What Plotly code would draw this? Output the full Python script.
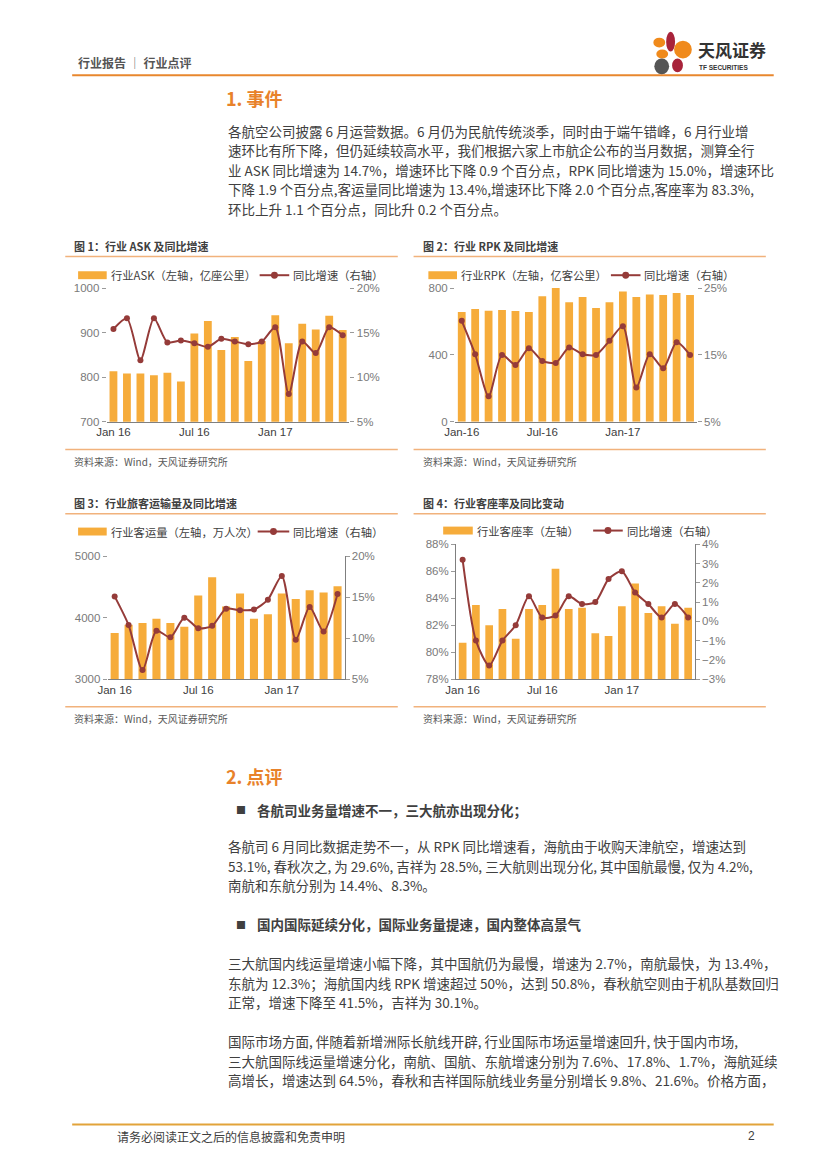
import plotly.graph_objects as go

W, H = 827, 1169

# ---------------- data ----------------
months = ["Jan 16", "Feb 16", "Mar 16", "Apr 16", "May 16", "Jun 16",
          "Jul 16", "Aug 16", "Sep 16", "Oct 16", "Nov 16", "Dec 16",
          "Jan 17", "Feb 17", "Mar 17", "Apr 17", "May 17", "Jun 17"]
months_pax = months[:17]

ask = [813, 808, 808, 804, 810, 790, 898, 926, 861, 890, 836, 881, 939, 876, 920, 907, 938, 906]
ask_yoy = [15.4, 16.6, 11.9, 16.6, 13.9, 14.1, 13.8, 13.4, 14.3, 14.0, 13.7, 14.0, 15.6, 8.1, 14.0, 12.7, 15.6, 14.7]

rpk = [656, 674, 664, 668, 662, 656, 751, 800, 715, 747, 680, 715, 780, 747, 762, 759, 770, 759]
rpk_yoy = [20.1, 15.1, 8.8, 15.0, 13.5, 16.0, 14.1, 13.8, 16.1, 15.1, 15.0, 17.1, 19.3, 10.1, 15.1, 13.0, 16.9, 15.0]

pax = [3751, 3885, 3912, 3981, 3912, 3853, 4362, 4657, 4180, 4394, 3981, 4056, 4394, 4303, 4448, 4410, 4512]
pax_yoy = [15.1, 11.6, 6.1, 10.9, 10.1, 12.5, 11.2, 11.5, 13.6, 13.4, 13.5, 14.7, 17.6, 9.8, 13.8, 10.8, 15.4]

lf = [80.7, 83.5, 82.0, 83.2, 81.0, 83.2, 83.5, 86.2, 83.2, 83.3, 81.4, 81.2, 83.4, 85.1, 82.9, 83.4, 82.1, 83.3]
lf_yoy = [3.2, -1.0, -2.3, -1.0, -0.2, 1.3, 0.2, 0.3, 1.3, 0.9, 1.0, 2.2, 2.6, 1.5, 0.9, 0.2, 0.9, 0.2]

tick_months = ["Jan 16", "Jul 16", "Jan 17"]
tick_text_space = ["Jan 16", "Jul 16", "Jan 17"]
tick_text_dash = ["Jan-16", "Jul-16", "Jan-17"]

chart_titles = ["图 1：行业 ASK 及同比增速", "图 2：行业 RPK 及同比增速",
                "图 3：行业旅客运输量及同比增速", "图 4：行业客座率及同比变动"]
bar_names = ["行业ASK（左轴，亿座公里）", "行业RPK（左轴，亿客公里）",
             "行业客运量（左轴，万人次）", "行业客座率（左轴）"]
line_name = "同比增速（右轴）"
source_text = "资料来源：Wind，天风证券研究所"

para1 = ["各航空公司披露 6 月运营数据。6 月仍为民航传统淡季，同时由于端午错峰，6 月行业增",
         "速环比有所下降，但仍延续较高水平，我们根据六家上市航企公布的当月数据，测算全行",
         "业 ASK 同比增速为 14.7%，增速环比下降 0.9 个百分点，RPK 同比增速为 15.0%，增速环比",
         "下降 1.9 个百分点,客运量同比增速为 13.4%,增速环比下降 2.0 个百分点,客座率为 83.3%,",
         "环比上升 1.1 个百分点，同比升 0.2 个百分点。"]
bullet1 = "各航司业务量增速不一，三大航亦出现分化；"
para2 = ["各航司 6 月同比数据走势不一，从 RPK 同比增速看，海航由于收购天津航空，增速达到",
         "53.1%, 春秋次之, 为 29.6%, 吉祥为 28.5%, 三大航则出现分化, 其中国航最慢, 仅为 4.2%,",
         "南航和东航分别为 14.4%、8.3%。"]
bullet2 = "国内国际延续分化，国际业务量提速，国内整体高景气"
para3 = ["三大航国内线运量增速小幅下降，其中国航仍为最慢，增速为 2.7%，南航最快，为 13.4%，",
         "东航为 12.3%；海航国内线 RPK 增速超过 50%，达到 50.8%，春秋航空则由于机队基数回归",
         "正常，增速下降至 41.5%，吉祥为 30.1%。"]
para4 = ["国际市场方面, 伴随着新增洲际长航线开辟, 行业国际市场运量增速回升, 快于国内市场,",
         "三大航国际线运量增速分化，南航、国航、东航增速分别为 7.6%、17.8%、1.7%，海航延续",
         "高增长，增速达到 64.5%，春秋和吉祥国际航线业务量分别增长 9.8%、21.6%。价格方面，"]

# ---------------- style ----------------
BAR = "#F6AC3B"
LINE = "#953B39"
ORANGE = "#E8822A"
TXT = "#404040"
CJK = "Noto Sans CJK SC"
NUM = "Liberation Sans, Noto Sans CJK SC"


def X(x):
    return x / W


def Y(y):
    return 1 - y / H


def pct(v):
    return ("−" if v < 0 else "") + f"{abs(v)}%"


fig = go.Figure()
annotations = []
shapes = []


def text(x, y, s, size=13.5, color=TXT, bold=False, family=CJK, xanchor="left"):
    if bold:
        s = "<b>" + s + "</b>"
    annotations.append(dict(x=X(x), y=Y(y), xref="paper", yref="paper", text=s,
                            showarrow=False, xanchor=xanchor, yanchor="middle",
                            font=dict(size=size, color=color, family=family)))


def hline(x0, x1, y, color, width):
    shapes.append(dict(type="line", xref="paper", yref="paper", x0=X(x0), x1=X(x1),
                       y0=Y(y), y1=Y(y), line=dict(color=color, width=width)))


def ellipse(x0, x1, y0, y1, color):
    shapes.append(dict(type="circle", xref="paper", yref="paper", x0=X(x0), x1=X(x1),
                       y0=Y(y1), y1=Y(y0), fillcolor=color, line=dict(width=0)))


# ---------------- charts ----------------
charts = [
    dict(cats=months, bars=ask, line=ask_yoy, xd=(97, 343), yd=(285, 420),
         lrange=[700, 1000], lticks=[700, 800, 900, 1000], lpct=False,
         rrange=[5, 20], rticks=[5, 10, 15, 20], ticktext=tick_text_space,
         rline=False, lline=False),
    dict(cats=months, bars=rpk, line=rpk_yoy, xd=(450, 695), yd=(285, 420),
         lrange=[0, 800], lticks=[0, 400, 800], lpct=False,
         rrange=[5, 25], rticks=[5, 15, 25], ticktext=tick_text_dash,
         rline=False, lline=False),
    dict(cats=months_pax, bars=pax, line=pax_yoy, xd=(98, 338), yd=(556, 680),
         lrange=[3000, 5000], lticks=[3000, 4000, 5000], lpct=False,
         rrange=[5, 20], rticks=[5, 10, 15, 20], ticktext=tick_text_space,
         rline=True, lline=False),
    dict(cats=months, bars=lf, line=lf_yoy, xd=(451, 693), yd=(544, 680),
         lrange=[78, 88], lticks=[78, 80, 82, 84, 86, 88], lpct=True,
         rrange=[-3, 4], rticks=[-3, -2, -1, 0, 1, 2, 3, 4], ticktext=tick_text_space,
         rline=True, lline=True),
]

layout_axes = {}
for i, c in enumerate(charts):
    xn = "x" if i == 0 else f"x{i + 1}"
    yl = f"y{2 * i + 1}" if i > 0 else "y"
    yr = f"y{2 * i + 2}"
    fig.add_trace(go.Bar(x=c["cats"], y=c["bars"], marker_color=BAR, marker_line_width=0,
                         xaxis=xn, yaxis=yl, showlegend=False, hoverinfo="skip"))
    fig.add_trace(go.Scatter(x=c["cats"], y=c["line"], mode="lines+markers",
                             line=dict(color=LINE, width=2, shape="spline", smoothing=0.7),
                             marker=dict(color=LINE, size=6),
                             xaxis=xn, yaxis=yr, showlegend=False, hoverinfo="skip"))
    xkey = "xaxis" if i == 0 else f"xaxis{i + 1}"
    ylkey = "yaxis" if i == 0 else f"yaxis{2 * i + 1}"
    yrkey = f"yaxis{2 * i + 2}"
    layout_axes[xkey] = dict(domain=[X(c["xd"][0]), X(c["xd"][1])], anchor=yl,
                             type="category", categoryorder="array", categoryarray=c["cats"],
                             range=[-0.5, len(c["cats"]) - 0.5],
                             tickvals=tick_months, ticktext=c["ticktext"],
                             showline=True, linecolor="#7f7f7f", linewidth=1,
                             ticks="", showgrid=False, zeroline=False,
                             tickfont=dict(size=11.5, color=TXT, family=NUM))
    lt = [pct(v) for v in c["lticks"]] if c["lpct"] else [str(v) for v in c["lticks"]]
    layout_axes[ylkey] = dict(domain=[Y(c["yd"][1]), Y(c["yd"][0])], anchor=xn,
                              range=c["lrange"], tickvals=c["lticks"], ticktext=lt,
                              showgrid=False, zeroline=False,
                              showline=c["lline"], linecolor="#7f7f7f", linewidth=1,
                              ticks="outside", ticklen=4, tickcolor="#9a9a9a",
                              tickfont=dict(size=11.5, color="#7a7a7a", family=NUM))
    layout_axes[yrkey] = dict(overlaying=yl, side="right", anchor=xn,
                              range=c["rrange"], tickvals=c["rticks"],
                              ticktext=[pct(v) for v in c["rticks"]],
                              showgrid=False, zeroline=False,
                              showline=c["rline"], linecolor="#7f7f7f", linewidth=1,
                              ticks="outside", ticklen=4, tickcolor="#9a9a9a",
                              tickfont=dict(size=11.5, color="#7a7a7a", family=NUM))

# chart frames: titles, separator lines, legends, sources
frames = [
    dict(x=62, ty=242, ly=253, lx=(55, 392), legy=272, sw=(68, 97), bt=99,
         lsw=(252, 282), lt=284, srcl=448, srct=460),
    dict(x=416, ty=242, ly=253, lx=(408, 765), legy=272, sw=(423, 452), bt=454,
         lsw=(608, 638), lt=640, srcl=448, srct=460),
    dict(x=62, ty=502, ly=513, lx=(55, 392), legy=531, sw=(68, 97), bt=99,
         lsw=(250, 282), lt=284, srcl=708, srct=720),
    dict(x=416, ty=502, ly=513, lx=(408, 765), legy=530, sw=(438, 468), bt=470,
         lsw=(590, 620), lt=622, srcl=708, srct=720),
]
for i, f in enumerate(frames):
    text(f["x"], f["ty"], chart_titles[i], size=11, color=TXT, bold=True)
    hline(f["lx"][0], f["lx"][1], f["ly"], "#F1B27C", 1.5)
    hline(f["lx"][0], f["lx"][1], f["srcl"], "#F1B27C", 1.5)
    text(f["x"], f["srct"], source_text, size=10, color="#595959")
    shapes.append(dict(type="rect", xref="paper", yref="paper",
                       x0=X(f["sw"][0]), x1=X(f["sw"][1]),
                       y0=Y(f["legy"] + 4), y1=Y(f["legy"] - 4),
                       fillcolor=BAR, line=dict(width=0)))
    text(f["bt"], f["legy"], bar_names[i], size=11.3, color=TXT)
    hline(f["lsw"][0], f["lsw"][1], f["legy"], LINE, 2)
    cx = (f["lsw"][0] + f["lsw"][1]) / 2
    ellipse(cx - 3.5, cx + 3.5, f["legy"] - 3.5, f["legy"] + 3.5, LINE)
    text(f["lt"], f["legy"], line_name, size=11.3, color=TXT)

# ---------------- page header ----------------
text(66, 57, "行业报告 │ 行业点评", size=12, color="#555555", bold=True)
hline(62, 773, 70, "#E8872E", 2)
# logo petals
ellipse(664, 673, 26, 46, "#A8233A")
ellipse(672, 690, 35, 53, "#F08A1C")
ellipse(651, 663, 32, 42, "#F08A1C")
ellipse(654, 666, 44, 53, "#F08A1C")
ellipse(670, 681, 53, 67, "#A8233A")
ellipse(652, 667, 53, 69, "#555555")
text(694, 44, "天风证券", size=17, color="#333333", bold=True)
text(695, 62, "TF SECURITIES", size=6.5, color="#333333", bold=True, family=NUM)

# ---------------- section 1 ----------------
text(216, 93, "1. 事件", size=18, color=ORANGE, bold=True)
for k, line in enumerate(para1):
    text(218, 126 + 19.8 * k, line)

# ---------------- section 2 ----------------
text(216, 778, "2. 点评", size=18, color=ORANGE, bold=True)
text(226, 812, "■", size=10, color=TXT)
text(247, 812, bullet1, bold=True)
for k, line in enumerate(para2):
    text(218, 849 + 19.8 * k, line)
text(226, 928, "■", size=10, color=TXT)
text(247, 928, bullet2, bold=True)
for k, line in enumerate(para3):
    text(218, 967 + 19.8 * k, line)
for k, line in enumerate(para4):
    text(218, 1046 + 19.8 * k, line)

# ---------------- footer ----------------
hline(62, 773, 1130, "#E2A33A", 2)
text(105, 1142, "请务必阅读正文之后的信息披露和免责申明", size=12, color=TXT)
text(756, 1142, "2", size=12, color=TXT, xanchor="right", family=NUM)

fig.update_layout(width=W, height=H, margin=dict(l=0, r=0, t=0, b=0),
                  paper_bgcolor="white", plot_bgcolor="rgba(0,0,0,0)",
                  bargap=0.42, showlegend=False,
                  annotations=annotations, shapes=shapes, **layout_axes)

fig.write_html("out.html", config={"displayModeBar": False},
               post_script="document.body.style.margin='0';document.body.style.padding='0';"
                           "document.documentElement.style.overflow='hidden';")
